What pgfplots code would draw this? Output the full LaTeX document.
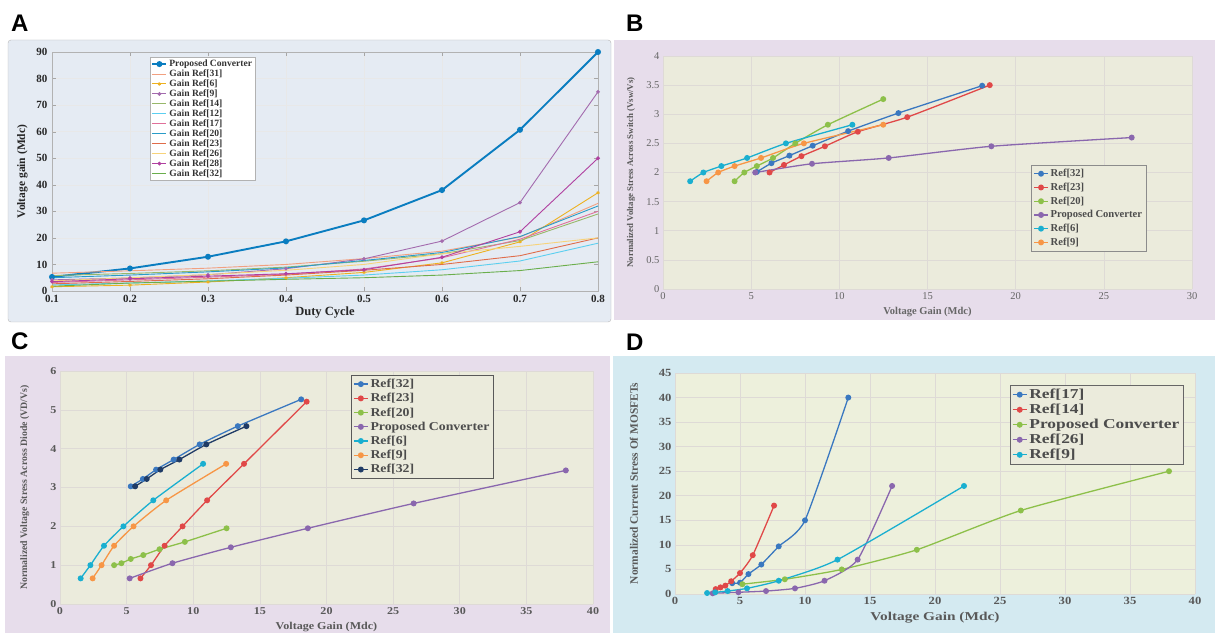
\documentclass[border=0pt]{standalone}
\usepackage{fontspec}
\setmainfont{Liberation Serif}
\newfontfamily\panelfont{Liberation Sans}
\newfontfamily\widefont[FakeStretch=1.15]{Liberation Serif}
\newfontfamily\widerfont[FakeStretch=1.28]{Liberation Serif}
\usepackage{pgfplots}
\pgfplotsset{compat=1.18}

% panel backgrounds
\definecolor{frameA}{HTML}{E5EBF3}
\definecolor{bgPurple}{HTML}{E7DDEB}
\definecolor{bgBlue}{HTML}{D4EAF1}
\definecolor{plotbg}{HTML}{EBEBDC}
\definecolor{plotbgD}{HTML}{EDF0DC}
\definecolor{gridB}{HTML}{DEDAD6}
% series colours, panel A
\definecolor{cProp}{HTML}{0A7DC0}
\definecolor{c31}{HTML}{F2A080}
\definecolor{c6}{HTML}{EDB120}
\definecolor{c9}{HTML}{A36BAE}
\definecolor{c14}{HTML}{98B86A}
\definecolor{c12}{HTML}{5CCFF0}
\definecolor{c17}{HTML}{E0709A}
\definecolor{c20}{HTML}{2A9CC8}
\definecolor{c23}{HTML}{E06C4A}
\definecolor{c26}{HTML}{F7D37A}
\definecolor{c28}{HTML}{B040A0}
\definecolor{c32}{HTML}{6AAE4C}
% series colours, panels B-D
\definecolor{xBlue}{HTML}{3A78C0}
\definecolor{xRed}{HTML}{E04848}
\definecolor{xGreen}{HTML}{8DC04A}
\definecolor{xPurple}{HTML}{8A67AE}
\definecolor{xCyan}{HTML}{1AAFD0}
\definecolor{xOrange}{HTML}{F79646}
\definecolor{xNavy}{HTML}{1F3B66}

\pgfplotsset{
  excelaxis/.style={
    scale only axis,
    axis line style={draw=none},
    tick style={draw=none},
    grid=major,
    major grid style={draw=gridB, line width=0.6pt},
    axis background/.style={fill=plotbg},
    /pgf/number format/assume math mode=true,
    every axis plot/.append style={line width=1.3pt, mark=*, mark size=2.3pt, smooth, tension=0.35},
    legend cell align=left,
    legend image code/.code={\draw[mark repeat=2,mark phase=2] plot coordinates {(0pt,0pt) (7pt,0pt) (14pt,0pt)};},
  },
}

\begin{document}
\begin{tikzpicture}
\useasboundingbox (0,0) rectangle (1215pt,635pt);
\fill[white] (0,0) rectangle (1215pt,635pt);

% panel frames
\draw[draw=gray!55, fill=frameA, rounded corners=3pt] (8pt,313pt) rectangle (611pt,595pt);
\fill[bgPurple] (614pt,315pt) rectangle (1215pt,595pt);
\fill[bgPurple] (5pt,2pt) rectangle (610pt,279pt);
\fill[bgBlue] (613pt,2pt) rectangle (1215pt,279pt);

% panel letters
\node[anchor=base west, inner sep=0pt, font=\panelfont\bfseries\fontsize{24}{24}\selectfont] at (11pt,603pt) {A};
\node[anchor=base west, inner sep=0pt, font=\panelfont\bfseries\fontsize{24}{24}\selectfont] at (626pt,603pt) {B};
\node[anchor=base west, inner sep=0pt, font=\panelfont\bfseries\fontsize{24}{24}\selectfont] at (11pt,285pt) {C};
\node[anchor=base west, inner sep=0pt, font=\panelfont\bfseries\fontsize{24}{24}\selectfont] at (626pt,284pt) {D};

% ---------------- A: voltage gain against duty cycle ----------------
\begin{axis}[
  at={(52pt,344pt)}, anchor=south west, scale only axis,
  width=546pt, height=239pt,
  xmin=0.1, xmax=0.8, ymin=0, ymax=90,
  xtick={0.1,0.2,0.3,0.4,0.5,0.6,0.7,0.8},
  ytick={0,10,20,30,40,50,60,70,80,90},
  /pgf/number format/assume math mode=true,
  tick label style={font=\bfseries\fontsize{11}{12}\selectfont, text=black!85},
  yticklabel style={xshift=-1pt},
  xticklabel style={yshift=-1pt, /pgf/number format/.cd, fixed, precision=1},
  tick align=inside, tick style={gray!70},
  axis line style={gray!60},
  grid=major, major grid style={gray!18},
  xlabel={Duty Cycle}, ylabel={Voltage gain (Mdc)},
  every axis x label/.style={at={(axis description cs:0.5,-0.088)}, anchor=center,
    font=\bfseries\fontsize{12.5}{13}\selectfont, text=black!85},
  every axis y label/.style={at={(axis description cs:-0.054,0.5)}, rotate=90, anchor=center,
    font=\bfseries\fontsize{11.5}{13}\selectfont, text=black!85},
  legend style={at={(0.18,0.98)}, anchor=north west, draw=gray!60, fill=white,
    font=\bfseries\fontsize{9.6}{10}\selectfont, text=black!80, row sep=-2.3pt, inner sep=1pt},
  legend cell align=left,
  legend image code/.code={\draw[mark repeat=2,mark phase=2] plot coordinates {(0pt,0pt) (7pt,0pt) (14pt,0pt)};},
]
\addplot[color=cProp, line width=1.9pt, mark=*, mark size=2pt] coordinates {(0.1,5.3)(0.2,8.5)(0.3,12.9)(0.4,18.7)(0.5,26.6)(0.6,38.0)(0.7,60.7)(0.8,90.0)};
\addlegendentry{Proposed Converter}
\addplot[color=c31, line width=0.9pt] coordinates {(0.1,6.7)(0.2,7.6)(0.3,8.6)(0.4,10.0)(0.5,12.2)(0.6,15.0)(0.7,20.3)(0.8,33.0)};
\addlegendentry{Gain Ref[31]}
\addplot[color=c6, line width=0.9pt, mark=asterisk, mark size=1.6pt] coordinates {(0.1,1.6)(0.2,2.2)(0.3,3.4)(0.4,5.0)(0.5,7.0)(0.6,10.6)(0.7,18.5)(0.8,37.0)};
\addlegendentry{Gain Ref[6]}
\addplot[color=c9, line width=0.9pt, mark=*, mark size=1.4pt] coordinates {(0.1,4.2)(0.2,4.9)(0.3,6.1)(0.4,8.4)(0.5,12.1)(0.6,18.8)(0.7,33.3)(0.8,75.0)};
\addlegendentry{Gain Ref[9]}
\addplot[color=c14, line width=0.9pt] coordinates {(0.1,5.8)(0.2,6.6)(0.3,7.6)(0.4,9.0)(0.5,11.2)(0.6,14.0)(0.7,19.0)(0.8,29.0)};
\addlegendentry{Gain Ref[14]}
\addplot[color=c12, line width=0.9pt] coordinates {(0.1,2.3)(0.2,3.0)(0.3,3.8)(0.4,4.8)(0.5,6.0)(0.6,8.0)(0.7,11.3)(0.8,18.0)};
\addlegendentry{Gain Ref[12]}
\addplot[color=c17, line width=0.9pt] coordinates {(0.1,3.2)(0.2,4.2)(0.3,5.2)(0.4,6.3)(0.5,8.3)(0.6,12.5)(0.7,19.5)(0.8,30.0)};
\addlegendentry{Gain Ref[17]}
\addplot[color=c20, line width=0.9pt] coordinates {(0.1,5.0)(0.2,6.0)(0.3,7.2)(0.4,8.7)(0.5,11.5)(0.6,14.5)(0.7,20.5)(0.8,32.0)};
\addlegendentry{Gain Ref[20]}
\addplot[color=c23, line width=0.9pt] coordinates {(0.1,2.7)(0.2,3.6)(0.3,4.6)(0.4,6.0)(0.5,7.8)(0.6,10.0)(0.7,13.3)(0.8,20.0)};
\addlegendentry{Gain Ref[23]}
\addplot[color=c26, line width=0.9pt] coordinates {(0.1,3.8)(0.2,5.0)(0.3,6.2)(0.4,7.8)(0.5,10.0)(0.6,14.0)(0.7,16.8)(0.8,20.0)};
\addlegendentry{Gain Ref[26]}
\addplot[color=c28, line width=0.9pt, mark=*, mark size=1.4pt] coordinates {(0.1,3.5)(0.2,4.6)(0.3,5.6)(0.4,6.5)(0.5,8.0)(0.6,12.7)(0.7,22.3)(0.8,50.0)};
\addlegendentry{Gain Ref[28]}
\addplot[color=c32, line width=0.9pt] coordinates {(0.1,1.8)(0.2,3.0)(0.3,3.7)(0.4,4.4)(0.5,5.0)(0.6,6.0)(0.7,7.7)(0.8,11.0)};
\addlegendentry{Gain Ref[32]}
\end{axis}

% ---------------- B: switch voltage stress ----------------
\begin{axis}[
  excelaxis,
  at={(663pt,346pt)}, anchor=south west,
  width=529pt, height=233pt,
  xmin=0, xmax=30, ymin=0, ymax=4,
  xtick={0,5,...,30}, ytick={0,0.5,...,4},
  tick label style={font=\fontsize{10.5}{12}\selectfont, text=black!60},
  xlabel={Voltage Gain (Mdc)},
  ylabel={Normalized Voltage Stress Across Switch (Vsw/Vs)},
  every axis x label/.style={at={(axis description cs:0.5,-0.099)}, anchor=center,
    font=\bfseries\fontsize{10.5}{12}\selectfont, text=black!60},
  every axis y label/.style={at={(axis description cs:-0.0605,0.5)}, rotate=90, anchor=center,
    font=\bfseries\fontsize{8.8}{11}\selectfont, text=black!65},
  legend style={at={(0.696,0.532)}, anchor=north west, draw=black!45, fill=plotbg,
    font=\bfseries\fontsize{10.6}{11}\selectfont, text=black!70, row sep=0.8pt, inner sep=2pt},
]
\addplot[color=xBlue] coordinates {(5.32,2.01)(6.15,2.16)(7.17,2.29)(8.49,2.46)(10.5,2.71)(13.35,3.02)(18.1,3.49)};
\addlegendentry{Ref[32]}
\addplot[color=xRed] coordinates {(6.04,2.0)(6.86,2.13)(7.85,2.28)(9.18,2.45)(11.05,2.70)(13.85,2.95)(18.53,3.50)};
\addlegendentry{Ref[23]}
\addplot[color=xGreen] coordinates {(4.06,1.85)(4.61,2.0)(5.32,2.11)(6.24,2.25)(7.5,2.50)(9.35,2.82)(12.49,3.26)};
\addlegendentry{Ref[20]}
\addplot[color=xPurple] coordinates {(5.23,2.0)(8.45,2.15)(12.8,2.25)(18.62,2.45)(26.58,2.60)};
\addlegendentry{Proposed Converter}
\addplot[color=xCyan] coordinates {(1.54,1.85)(2.29,2.0)(3.31,2.11)(4.77,2.25)(6.97,2.50)(10.74,2.82)};
\addlegendentry{Ref[6]}
\addplot[color=xOrange] coordinates {(2.47,1.85)(3.13,2.0)(4.06,2.11)(5.56,2.25)(7.99,2.50)(12.49,2.82)};
\addlegendentry{Ref[9]}
\end{axis}

% ---------------- C: diode voltage stress ----------------
\begin{axis}[
  excelaxis,
  at={(60pt,31pt)}, anchor=south west,
  width=533pt, height=233pt,
  xmin=0, xmax=40, ymin=0, ymax=6,
  xtick={0,5,...,40}, ytick={0,1,...,6},
  tick label style={font=\widefont\bfseries\fontsize{10.5}{12}\selectfont, text=black!65},
  xlabel={Voltage Gain (Mdc)},
  ylabel={Normalized Voltage Stress Across Diode (VD/Vs)},
  every axis x label/.style={at={(axis description cs:0.5,-0.099)}, anchor=center,
    font=\widefont\bfseries\fontsize{10.5}{12}\selectfont, text=black!65},
  every axis y label/.style={at={(axis description cs:-0.066,0.5)}, rotate=90, anchor=center,
    font=\bfseries\fontsize{9.8}{11}\selectfont, text=black!65},
  legend style={at={(0.546,0.983)}, anchor=north west, draw=black!65, fill=plotbg,
    font=\widefont\bfseries\fontsize{12}{12.5}\selectfont, text=black!70, row sep=0.3pt, inner sep=2pt},
]
\addplot[color=xBlue] coordinates {(5.31,3.03)(6.22,3.22)(7.21,3.46)(8.53,3.72)(10.48,4.11)(13.34,4.58)(18.1,5.27)};
\addlegendentry{Ref[32]}
\addplot[color=xRed] coordinates {(6.04,0.66)(6.83,1.0)(7.85,1.5)(9.2,2.0)(11.04,2.67)(13.81,3.61)(18.51,5.21)};
\addlegendentry{Ref[23]}
\addplot[color=xGreen] coordinates {(4.06,1.0)(4.61,1.05)(5.31,1.16)(6.25,1.26)(7.47,1.41)(9.37,1.6)(12.5,1.95)};
\addlegendentry{Ref[20]}
\addplot[color=xPurple] coordinates {(5.23,0.66)(8.44,1.05)(12.82,1.46)(18.6,1.95)(26.54,2.59)(37.96,3.44)};
\addlegendentry{Proposed Converter}
\addplot[color=xCyan] coordinates {(1.55,0.66)(2.28,1.0)(3.3,1.5)(4.76,2.0)(7.0,2.67)(10.74,3.61)};
\addlegendentry{Ref[6]}
\addplot[color=xOrange] coordinates {(2.45,0.66)(3.12,1.0)(4.06,1.5)(5.52,2.0)(7.97,2.67)(12.47,3.61)};
\addlegendentry{Ref[9]}
\addplot[color=xNavy] coordinates {(5.64,3.03)(6.51,3.22)(7.53,3.46)(8.96,3.72)(10.98,4.11)(13.99,4.58)};
\addlegendentry{Ref[32]}
\end{axis}

% ---------------- D: MOSFET current stress ----------------
\begin{axis}[
  excelaxis,
  axis background/.style={fill=plotbgD},
  at={(675pt,41pt)}, anchor=south west,
  width=520pt, height=221pt,
  xmin=0, xmax=40, ymin=0, ymax=45,
  xtick={0,5,...,40}, ytick={0,5,...,45},
  tick label style={font=\widefont\bfseries\fontsize{11}{12}\selectfont, text=black!65},
  xlabel={Voltage Gain (Mdc)},
  ylabel={Normalized Current Stress Of MOSFETs},
  every axis x label/.style={at={(axis description cs:0.5,-0.109)}, anchor=center,
    font=\widerfont\bfseries\fontsize{12}{13}\selectfont, text=black!65},
  every axis y label/.style={at={(axis description cs:-0.079,0.5)}, rotate=90, anchor=center,
    font=\bfseries\fontsize{11.4}{12}\selectfont, text=black!65},
  legend style={at={(0.644,0.946)}, anchor=north west, draw=black!60, fill=plotbg,
    font=\widerfont\bfseries\fontsize{13.6}{14}\selectfont, text=black!70, row sep=0pt, inner sep=2pt},
]
\addplot[color=xBlue] coordinates {(4.4,2.2)(5.0,2.3)(5.65,4.06)(6.64,6.0)(7.98,9.7)(10.0,15.0)(13.33,40.0)};
\addlegendentry{Ref[17]}
\addplot[color=xRed] coordinates {(3.13,1.0)(3.5,1.35)(3.87,1.7)(4.32,2.6)(5.0,4.26)(5.98,7.9)(7.62,18.0)};
\addlegendentry{Ref[14]}
\addplot[color=xGreen] coordinates {(5.18,2.0)(8.45,3.0)(12.83,5.0)(18.6,9.0)(26.6,17.0)(38.0,25.0)};
\addlegendentry{Proposed Converter}
\addplot[color=xPurple] coordinates {(2.9,0.15)(4.88,0.35)(7.0,0.6)(9.23,1.15)(11.5,2.7)(14.05,7.0)(16.7,22.0)};
\addlegendentry{Ref[26]}
\addplot[color=xCyan] coordinates {(2.47,0.2)(3.1,0.35)(4.05,0.6)(5.54,1.15)(7.98,2.7)(12.5,7.0)(22.23,22.0)};
\addlegendentry{Ref[9]}
\end{axis}
\end{tikzpicture}
\end{document}
